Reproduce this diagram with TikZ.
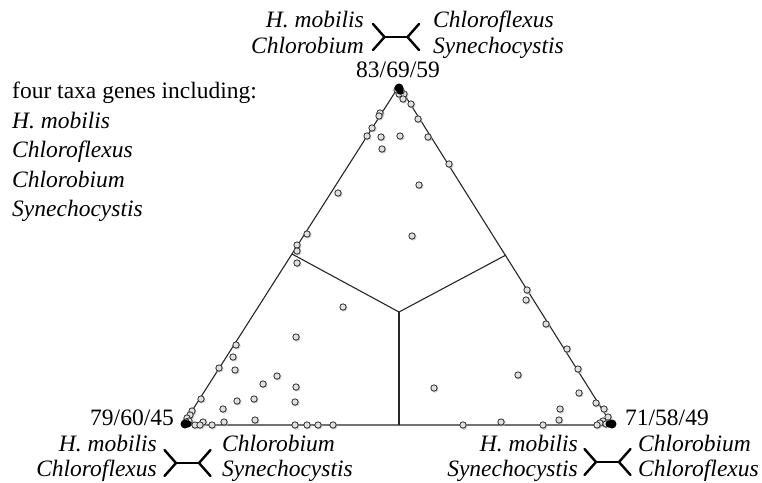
\documentclass[tikz,border=0pt]{standalone}
\usepackage{fontspec}
\setmainfont{Liberation Serif}
\begin{document}
\begin{tikzpicture}[x=1pt,y=-1pt,
  lbl/.style={font=\fontsize{23.5}{28}\selectfont, inner sep=0pt},
  taxon/.style={font=\fontsize{23.5}{28}\selectfont\itshape, inner sep=0pt},
  edge/.style={line width=1.1pt, black!85},
  treeline/.style={line width=2.4pt, line cap=round, line join=round},
  dotm/.style={draw=black!85, fill=black!12, line width=0.75pt},
  shad/.style={fill=black!30, opacity=0.6},
  quartet/.pic={
    \draw[treeline] (-23,-13) -- (-11.5,0) -- (-23,13);
    \draw[treeline] (-11.5,0) -- (11.5,0);
    \draw[treeline] (23,-13) -- (11.5,0) -- (23,13);
  }]
\useasboundingbox (0,0) rectangle (762,482);

% triangle and regions
\coordinate (A) at (183,425);
\coordinate (B) at (612,425);
\coordinate (C) at (399,86);
\coordinate (O) at (399,312);
\coordinate (L) at (292,254);
\coordinate (R) at (506,255);
\coordinate (M) at (399,425);
\draw[edge] (A) -- (B) -- (C) -- cycle;
\draw[edge] (O) -- (L);
\draw[edge] (O) -- (R);
\draw[edge] (O) -- (M);

% data points
\foreach \x/\y in {
  399/94,404/94,403/99,411/104,401/91,397/90,
  380/113,379/116,372/128,367/136,381/137,400/136,418/119,428/137,382/149,
  449/164,338/193,419/185,307/234,297/245,297/251,297/263,412/236,343/307,
  527/290,526/300,546/324,
  296/337,236/345,233/357,219/368,235/370,277/376,263/384,296/387,
  201/399,237/401,254/399,295/402,223/409,
  192/411,190/415,187/418,189/421,186/422,
  195/425,203/422,212/425,200/425,224/422,255/420,
  295/425,307/425,318/425,333/425,
  434/388,463/425,501/422,543/425,518/375,
  567/349,578/369,579/393,596/403,604/409,560/409,559/420,
  608/417,603/421,600/423,597/425,606/424}
{
  \fill[shad] (\x+0.9,\y+0.9) circle (3.7);
  \draw[dotm] (\x,\y) circle (3.2);
}

% vertex clusters
\fill (399,88) circle (4.5);
\fill (400,91) circle (3.5);
\fill (185,424) circle (4.5);
\fill (188,424) circle (3.5);
\fill (612,424) circle (4.5);
\fill (609,424) circle (3.5);

% vertex values
\node[lbl, anchor=base] (vt) at (398,77) {83/69/59};
\node[lbl, anchor=base east] (vl) at (174,425) {79/60/45};
\node[lbl, anchor=base west] (vr) at (625,425) {71/58/49};

% legend
\node[lbl, anchor=base west] (leg0) at (12,98.5) {four taxa genes including:};
\node[taxon, anchor=base west] (leg1) at (12,128) {H. mobilis};
\node[taxon, anchor=base west] (leg2) at (12,157.5) {Chloroflexus};
\node[taxon, anchor=base west] (leg3) at (12,187) {Chlorobium};
\node[taxon, anchor=base west] (leg4) at (12,216.5) {Synechocystis};

% top quartet
\node[taxon, anchor=base east] (t1) at (364,27) {H. mobilis};
\node[taxon, anchor=base east] (t2) at (364,53) {Chlorobium};
\node[taxon, anchor=base west] (t3) at (433,27) {Chloroflexus};
\node[taxon, anchor=base west] (t4) at (433,53) {Synechocystis};
\pic at (396,37) {quartet};

% bottom-left quartet
\node[taxon, anchor=base east] (l1) at (157,451) {H. mobilis};
\node[taxon, anchor=base east] (l2) at (157,476) {Chloroflexus};
\node[taxon, anchor=base west] (l3) at (222,451) {Chlorobium};
\node[taxon, anchor=base west] (l4) at (222,476) {Synechocystis};
\pic at (187.5,463) {quartet};

% bottom-right quartet
\node[taxon, anchor=base east] (r1) at (578,451) {H. mobilis};
\node[taxon, anchor=base east] (r2) at (578,476) {Synechocystis};
\node[taxon, anchor=base west] (r3) at (638,451) {Chlorobium};
\node[taxon, anchor=base west] (r4) at (638,476) {Chloroflexus};
\pic at (607.5,462) {quartet};
\end{tikzpicture}
\end{document}
